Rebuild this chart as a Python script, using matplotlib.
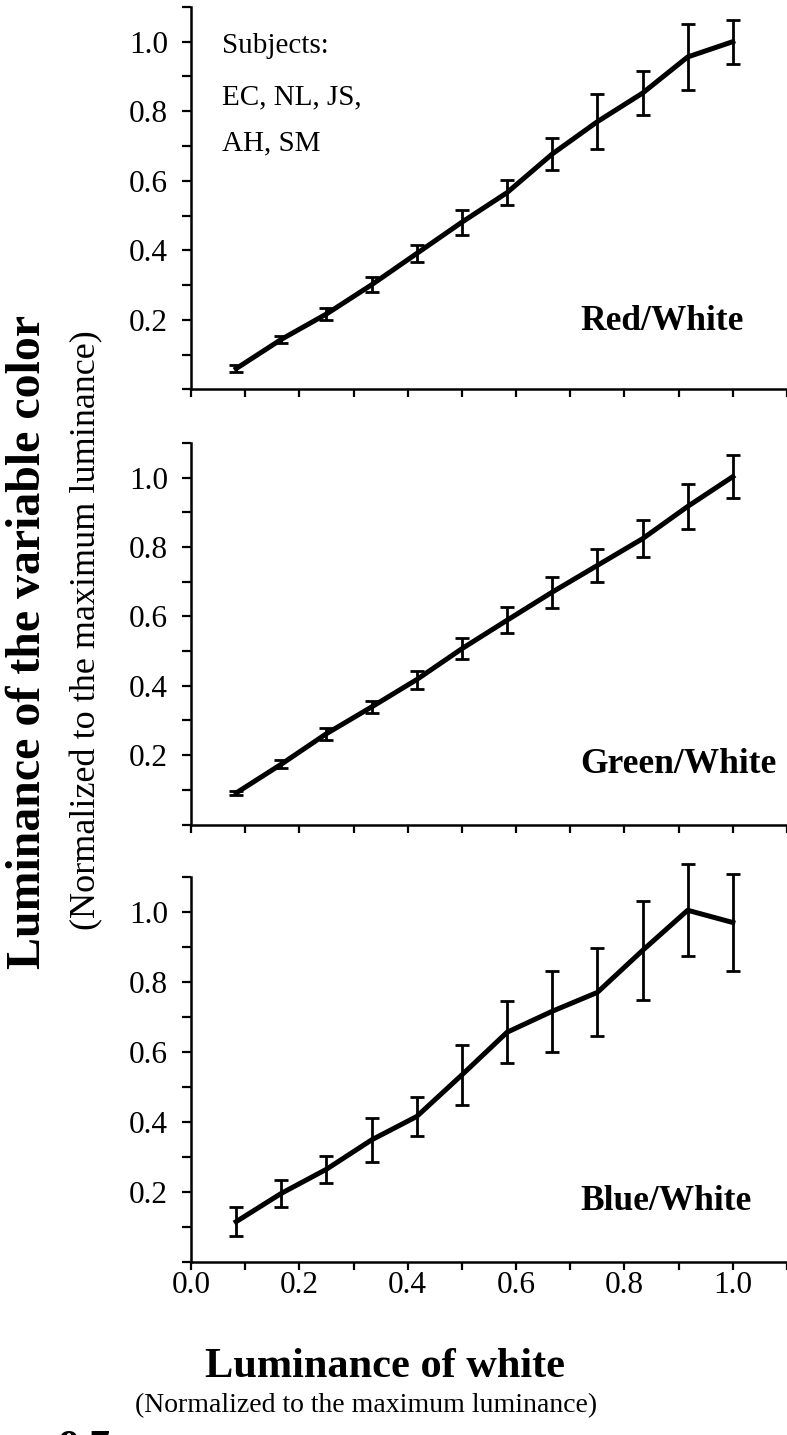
import numpy as np
import matplotlib.pyplot as plt

plt.rcParams['font.family'] = ['Liberation Serif', 'DejaVu Serif']

# white luminance steps (1/12 .. 12/12)
x = [1/12, 2/12, 3/12, 4/12, 5/12, 6/12, 7/12, 8/12, 9/12, 10/12, 11/12, 1.0]

red = [0.060, 0.144, 0.217, 0.301, 0.391, 0.481, 0.566, 0.677, 0.770, 0.852, 0.956, 1.000]
red_err = [0.010, 0.010, 0.016, 0.021, 0.025, 0.036, 0.037, 0.045, 0.080, 0.063, 0.096, 0.063]

green = [0.091, 0.174, 0.262, 0.339, 0.418, 0.507, 0.589, 0.670, 0.747, 0.824, 0.917, 1.003]
green_err = [0.005, 0.012, 0.017, 0.016, 0.026, 0.030, 0.037, 0.045, 0.047, 0.053, 0.065, 0.062]

blue = [0.114, 0.195, 0.264, 0.348, 0.415, 0.534, 0.656, 0.716, 0.770, 0.890, 1.005, 0.970]
blue_err = [0.042, 0.038, 0.039, 0.062, 0.055, 0.086, 0.088, 0.116, 0.126, 0.142, 0.131, 0.140]

subjects = ['Subjects:', 'EC, NL, JS,', 'AH, SM']

panels = [('Red/White', red, red_err, 0.195),
          ('Green/White', green, green_err, 0.172),
          ('Blue/White', blue, blue_err, 0.172)]

fig = plt.figure(figsize=(7.87, 14.35), dpi=100)

# axes boxes in figure fraction: [left, bottom, width, height]
boxes = [[0.2427, 0.7286, 0.7573, 0.2666],
         [0.2427, 0.4254, 0.7573, 0.2659],
         [0.2427, 0.1209, 0.7573, 0.2679]]

ticks = np.round(np.arange(0, 1.11, 0.1), 1)
ylabels = ['%.1f' % t if t in (0.2, 0.4, 0.6, 0.8, 1.0) else '' for t in ticks]
xlabels = ['%.1f' % t if t in (0.0, 0.2, 0.4, 0.6, 0.8, 1.0) else '' for t in ticks]

for i, (name, y, err, ty) in enumerate(panels):
    ax = fig.add_axes(boxes[i])
    ax.errorbar(x, y, yerr=err, color='k', lw=3.6, elinewidth=2.0,
                capsize=5, capthick=2.0, clip_on=False)
    ax.set_xlim(0, 1.1)
    ax.set_ylim(0, 1.1)
    ax.spines['top'].set_visible(False)
    ax.spines['right'].set_visible(False)
    ax.spines['left'].set_linewidth(1.8)
    ax.spines['bottom'].set_linewidth(1.8)
    ax.set_yticks(ticks)
    ax.set_yticklabels(ylabels)
    ax.set_xticks(ticks)
    if i == 2:
        ax.set_xticklabels(xlabels)
    else:
        ax.set_xticklabels([''] * len(ticks))
    ax.tick_params(axis='y', length=6.5, width=1.6, labelsize=22.5, pad=10)
    ax.tick_params(axis='x', length=6, width=1.6, labelsize=22.5, pad=1)
    ax.text(0.718, ty, name, fontsize=25.5, fontweight='bold', va='center', ha='left')
    if i == 0:
        for line, yb in zip(subjects, [0.966, 0.820, 0.686]):
            ax.text(0.058, yb, line, fontsize=21, va='baseline', ha='left')

fig.text(0.036, 0.5526, 'Luminance of the variable color', rotation=90,
         fontsize=34.5, fontweight='bold', ha='center', va='center')
fig.text(0.110, 0.561, '(Normalized to the maximum luminance)', rotation=90,
         fontsize=26, ha='center', va='center')
fig.text(0.489, 0.0404, 'Luminance of white', fontsize=30.5, fontweight='bold',
         ha='center', va='baseline')
fig.text(0.465, 0.016, '(Normalized to the maximum luminance)', fontsize=20,
         ha='center', va='baseline')
# figure number, cut off by the bottom edge as in the source scan
fig.text(0.075, 0.0035, '9.7', fontsize=30, fontweight='bold', ha='left', va='top')

fig.savefig('out.png', dpi=100)
